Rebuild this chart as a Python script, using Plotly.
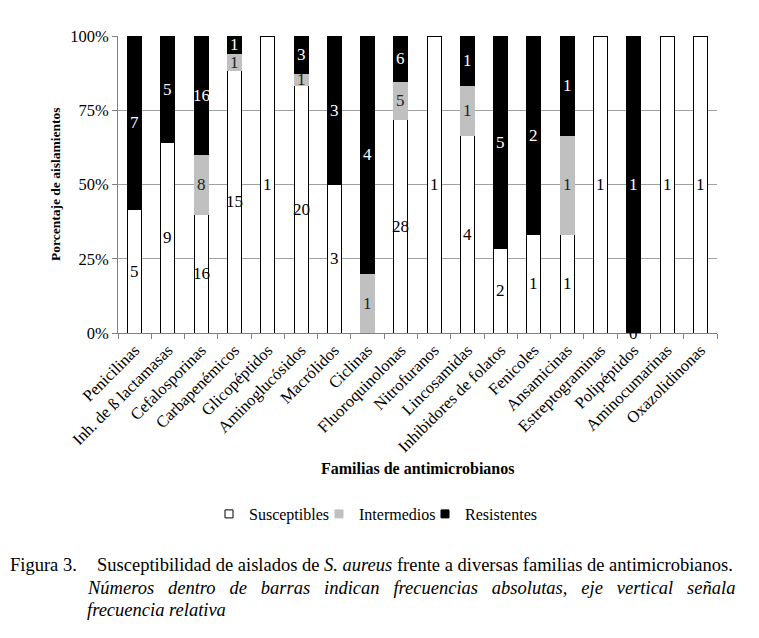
import plotly.graph_objects as go

categories = ["Penicilinas", "Inh. de ß lactamasas", "Cefalosporinas", "Carbapenémicos",
              "Glicopéptidos", "Aminoglucósidos", "Macrólidos", "Ciclinas",
              "Fluoroquinolonas", "Nitrofuranos", "Lincosamidas", "Inhibidores de folatos",
              "Fenicoles", "Ansamicinas", "Estreptograminas", "Polipéptidos",
              "Aminocumarinas", "Oxazolidinonas"]
susceptibles = [5, 9, 16, 15, 1, 20, 3, 0, 28, 1, 4, 2, 1, 1, 1, 0, 1, 1]
intermedios  = [0, 0, 8, 1, 0, 1, 0, 1, 5, 0, 1, 0, 0, 1, 0, 0, 0, 0]
resistentes  = [7, 5, 16, 1, 0, 3, 3, 4, 6, 0, 1, 5, 2, 1, 0, 1, 0, 0]
zero_labels = ["Polipéptidos"]  # zero count shown as label
y_ticks = [0, 25, 50, 75, 100]

FONT = "Liberation Serif, Times New Roman, DejaVu Serif, serif"
W, H = 759, 638
OFF = 8  # page body margin
L, R, T, B = 110, 50, 28, 313
PW, PH = W - L - R, H - T - B


def px(x):  # screenshot x -> paper
    return (x - OFF - L) / PW


def py(y):  # screenshot y -> paper
    return (H - B - (y - OFF)) / PH


totals = [s + i + r for s, i, r in zip(susceptibles, intermedios, resistentes)]
pct = lambda arr: [100.0 * v / t for v, t in zip(arr, totals)]
pS, pI, pR = pct(susceptibles), pct(intermedios), pct(resistentes)

colors = {"Susceptibles": "white", "Intermedios": "#c0c0c0", "Resistentes": "black"}
lines = {"Susceptibles": "black", "Intermedios": "#c0c0c0", "Resistentes": "black"}

fig = go.Figure()
for name, vals in (("Susceptibles", pS), ("Intermedios", pI), ("Resistentes", pR)):
    fig.add_bar(x=categories, y=vals, name=name, showlegend=False,
                marker=dict(color=colors[name], line=dict(color=lines[name], width=1)))

legend_ids = {"Susceptibles": "legend", "Intermedios": "legend2", "Resistentes": "legend3"}
legend_text_x = {"Susceptibles": 249, "Intermedios": 359, "Resistentes": 465}
for name in ("Susceptibles", "Intermedios", "Resistentes"):
    fig.add_scatter(x=[None], y=[None], mode="markers", name=name,
                    legend=legend_ids[name],
                    marker=dict(symbol="square", size=8, color=colors[name],
                                line=dict(color=lines[name], width=1)))

annotations = []
for k, c in enumerate(categories):
    base = 0.0
    for cnt, p, col in ((susceptibles[k], pS[k], "black"),
                        (intermedios[k], pI[k], "#222222"),
                        (resistentes[k], pR[k], "white")):
        if cnt > 0 or (c in zero_labels and p == 0 and col == "black"):
            annotations.append(dict(x=c, y=base + p / 2, xref="x", yref="y",
                                    text=str(cnt), showarrow=False,
                                    xanchor="center", yanchor="middle",
                                    font=dict(family=FONT, size=17, color=col)))
        base += p

CAP = 18.5
gap = " \u00a0\u2005"
line2 = gap.join("Números dentro de barras indican frecuencias absolutas, eje vertical señala".split(" "))


def note(x, y, text, size, xanchor="left", **kw):
    return dict(x=px(x), y=py(y), xref="paper", yref="paper", text=text, showarrow=False,
                xanchor=xanchor, yanchor="middle",
                font=dict(family=FONT, size=size, color="black"), **kw)


annotations += [
    note(55, 185, "<b>Porcentaje de aislamientos</b>", 13.5, xanchor="center", textangle=-90),
    note(418, 468, "<b>Familias de antimicrobianos</b>", 16, xanchor="center"),
    note(8, 565, "Figura 3.", CAP),
    note(95, 565, "Susceptibilidad de aislados de <i>S. aureus</i> frente a diversas familias de antimicrobianos.", CAP),
    note(85, 588, "<i>" + line2 + "</i>", CAP),
    note(85, 610, "<i>frecuencia relativa</i>", CAP),
]

legend_common = dict(orientation="h", yanchor="middle", xanchor="left",
                     font=dict(family=FONT, size=16), itemwidth=30, bgcolor="rgba(0,0,0,0)")
layout_legends = {}
for name, lid in legend_ids.items():
    layout_legends[lid] = dict(legend_common, x=px(legend_text_x[name] - 40), y=py(514))

fig.update_layout(
    width=W, height=H, barmode="stack", bargap=0.58,
    margin=dict(l=L, r=R, t=T, b=B, autoexpand=False),
    plot_bgcolor="white", paper_bgcolor="white",
    font=dict(family=FONT, size=14, color="black"),
    annotations=annotations,
    xaxis=dict(type="category", tickangle=-45, tickson="boundaries", ticks="outside",
               ticklen=5, tickcolor="#808080", showline=True, linecolor="#808080",
               showgrid=False, tickfont=dict(family=FONT, size=16.5)),
    yaxis=dict(range=[0, 100], tickvals=y_ticks, ticktext=[f"{v}%" for v in y_ticks],
               ticks="outside", ticklen=5, tickcolor="#808080", showline=True,
               linecolor="#808080", gridcolor="#a0a0a0", gridwidth=1, zeroline=False,
               tickfont=dict(family=FONT, size=16.5)),
    **layout_legends,
)

fig.write_html("out.html")
